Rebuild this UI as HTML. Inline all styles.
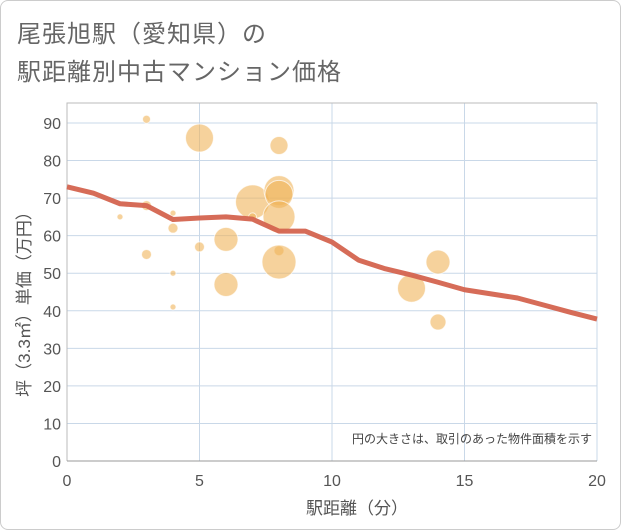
<!DOCTYPE html>
<html><head><meta charset="utf-8"><style>
body{margin:0;background:#fff;}
#wrap{position:relative;width:619px;height:528px;border:1px solid #ccc;border-radius:8px;overflow:hidden;font-family:"Liberation Sans","Noto Sans CJK JP",sans-serif;}
.title{position:absolute;left:16px;font-size:24px;color:#666;letter-spacing:1px;}
</style></head><body>
<div id="wrap">
<div class="title" style="top:13px">尾張旭駅（愛知県）の</div>
<div class="title" style="top:51px">駅距離別中古マンション価格</div>
<svg id="chart" width="621" height="530" style="position:absolute;left:-1px;top:-1px"></svg>
</div>
<script>
const xTicks=[0,5,10,15,20];
const yTicks=[0,10,20,30,40,50,60,70,80,90];
const bubbleX=[3,5,8,7,8,8,8,3,2,4,4,6,5,3,8,8,4,6,4,13,14,14,7];
const bubbleY=[91,86,84,69,72,71,65,68,65,66,62,59,57,55,56,53,50,47,41,46,53,37,65];
const bubbleSize=[4,14,9,17,15,14,16,5,3,3,5,12,5,5,5,17,3,12,3,14,12,8,4];
const lineX=[0,1,2,3,4,5,6,7,8,9,10,11,12,13,14,15,16,17,18,19,20];
const lineY=[73,71.3,68.5,68,64.3,64.7,65,64.4,61.2,61.2,58.3,53.5,51.2,49.5,47.6,45.6,44.5,43.4,41.5,39.6,37.8];
const NS="http://www.w3.org/2000/svg";
const svg=document.getElementById('chart');
const X0=67,X1=597,Y0=461,YT=103;
const sx=v=>X0+(v-0)*(X1-X0)/20;
const sy=v=>Y0-v*(461-123)/90;
function mk(t,a,p){const e=document.createElementNS(NS,t);for(const k in a)e.setAttribute(k,a[k]);(p||svg).appendChild(e);return e;}
const grid=mk('g',{});


yTicks.forEach(v=>{
 const l=mk('line',{x1:X0,x2:X1,y1:sy(v),y2:sy(v),stroke:'#c9d8e8','stroke-width':1},grid);
 
 
 const t=mk('text',{x:X0-6,y:sy(v)+6,'text-anchor':'end','font-size':16,fill:'#555'});
 t.textContent=v;
 
 
});
xTicks.forEach(v=>{
 const l=mk('line',{x1:sx(v),x2:sx(v),y1:YT,y2:Y0,stroke:'#c9d8e8','stroke-width':1},grid);
 
 
 const t=mk('text',{x:sx(v),y:Y0+25,'text-anchor':'middle','font-size':16,fill:'#555'});
 t.textContent=v;
 
 
});
const fr=mk('path',{d:`M${X0},${Y0}V${YT}H${X1}`,fill:'none',stroke:'#bbb','stroke-width':1});


const ax=mk('line',{x1:X0,x2:X1,y1:Y0,y2:Y0,stroke:'#999','stroke-width':1});


bubbleX.forEach((x,i)=>{
 const c=mk('circle',{cx:sx(x),cy:sy(bubbleY[i]),r:bubbleSize[i],fill:'rgba(240,180,90,0.6)',stroke:'rgba(255,255,255,0.7)','stroke-width':1});
 
 
});
const pl=mk('polyline',{points:lineX.map((x,i)=>sx(x)+','+sy(lineY[i])).join(' '),fill:'none',stroke:'#d4644f','stroke-width':5,'stroke-linejoin':'round','stroke-opacity':0.95});


const note=mk('text',{x:592,y:443,'text-anchor':'end','font-size':12,fill:'#444'});
note.textContent='円の大きさは、取引のあった物件面積を示す';


const xt=mk('text',{x:357,y:514,'text-anchor':'middle','font-size':17,fill:'#555'});
xt.textContent='駅距離（分）';


const yt=mk('text',{x:0,y:0,'text-anchor':'middle','font-size':17,fill:'#555',transform:'translate(30,300) rotate(-90)'});
yt.textContent='坪（3.3㎡）単価（万円）';


</script>
</body></html>
